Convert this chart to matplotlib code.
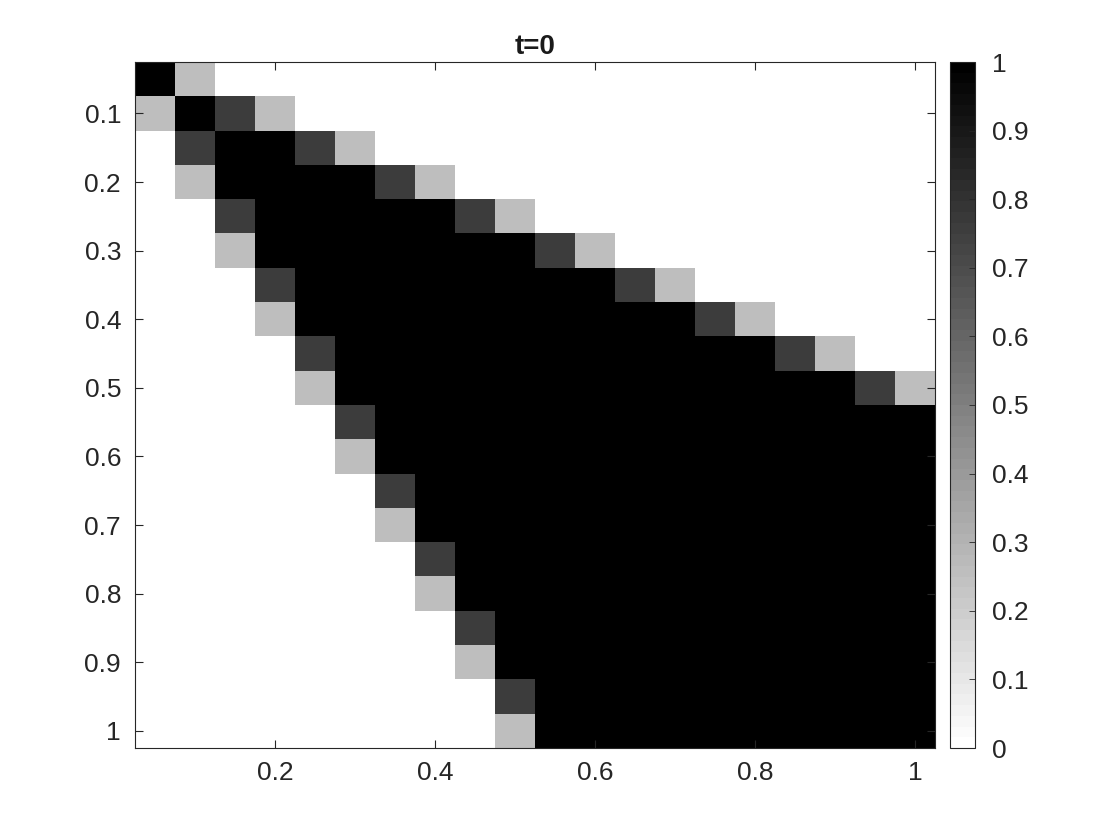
import numpy as np
import matplotlib.pyplot as plt

plt.rcParams['font.family'] = ['Liberation Sans', 'DejaVu Sans']

# grid cell centres
x = np.arange(1, 21) * 0.05
y = np.arange(1, 21) * 0.05

# level codes: '.' = 0, 'L' = 0.25, 'D' = 0.75, 'B' = 1
levels = {'.': 0.0, 'L': 0.25, 'D': 0.75, 'B': 1.0}
rows = [
    "BL..................",
    "LBDL................",
    ".DBBDL..............",
    ".LBBBBDL............",
    "..DBBBBBDL..........",
    "..LBBBBBBBDL........",
    "...DBBBBBBBBDL......",
    "...LBBBBBBBBBBDL....",
    "....DBBBBBBBBBBBDL..",
    "....LBBBBBBBBBBBBBDL",
    ".....DBBBBBBBBBBBBBB",
    ".....LBBBBBBBBBBBBBB",
    "......DBBBBBBBBBBBBB",
    "......LBBBBBBBBBBBBB",
    ".......DBBBBBBBBBBBB",
    ".......LBBBBBBBBBBBB",
    "........DBBBBBBBBBBB",
    "........LBBBBBBBBBBB",
    ".........DBBBBBBBBBB",
    ".........LBBBBBBBBBB",
]
xticks = [0.2, 0.4, 0.6, 0.8, 1.0]
xlabels = ["0.2", "0.4", "0.6", "0.8", "1"]
yticks = [0.1, 0.2, 0.3, 0.4, 0.5, 0.6, 0.7, 0.8, 0.9, 1.0]
ylabels = ["0.1", "0.2", "0.3", "0.4", "0.5", "0.6", "0.7", "0.8", "0.9", "1"]
cticks = [0, 0.1, 0.2, 0.3, 0.4, 0.5, 0.6, 0.7, 0.8, 0.9, 1]
clabels = ["0", "0.1", "0.2", "0.3", "0.4", "0.5", "0.6", "0.7", "0.8", "0.9", "1"]

Z = np.array([[levels[c] for c in r] for r in rows])

fig = plt.figure(figsize=(11.2, 8.4), dpi=100)
ax = fig.add_axes([135/1120, 1-748/840, 800/1120, 686/840])
cax = fig.add_axes([950/1120, 1-748/840, 25/1120, 686/840])

dx = x[1]-x[0]
dy = y[1]-y[0]
cmap = plt.get_cmap('gray_r', 64)
im = ax.imshow(Z, cmap=cmap, vmin=0, vmax=1, aspect='auto', interpolation='nearest',
               extent=[x[0]-dx/2, x[-1]+dx/2, y[-1]+dy/2, y[0]-dy/2])

ax.set_xticks(xticks)
ax.set_xticklabels(xlabels)
ax.set_yticks(yticks)
ax.set_yticklabels(ylabels)
ax.tick_params(direction='in', top=True, right=True, labelsize=19, length=6,
               width=0.8, colors='#262626')
ax.tick_params(axis='x', pad=9)
ax.tick_params(axis='y', pad=10)
for s in ax.spines.values():
    s.set_linewidth(0.8)
    s.set_color('#262626')
ax.set_title("t=0", fontsize=20, fontweight='bold', color='#1a1a1a', pad=6)

cb = fig.colorbar(im, cax=cax, ticks=cticks)
cb.ax.set_yticklabels(clabels)
cb.ax.tick_params(direction='in', labelsize=19, length=4, width=0.6,
                  colors='#262626', pad=12)
cb.outline.set_linewidth(0.8)
cb.outline.set_edgecolor('#262626')

fig.savefig('out.png', dpi=100)
